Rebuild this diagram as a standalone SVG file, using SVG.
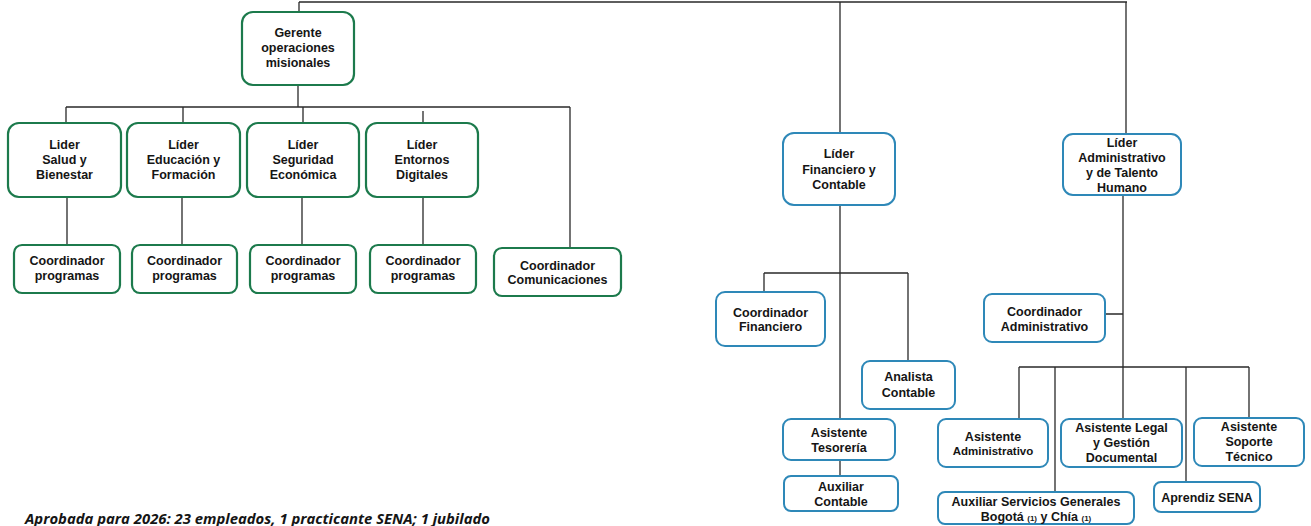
<svg xmlns="http://www.w3.org/2000/svg" width="1311" height="526" viewBox="0 0 1311 526">
<style>
.bg{fill:#ffffff}
.g{fill:#ffffff;stroke:#1c7a4c;stroke-width:2.2}
.b{fill:#ffffff;stroke:#2e88b8;stroke-width:2}
.c{fill:none;stroke:#2a2a2a;stroke-width:1.3}
text{font-family:"Liberation Sans",Arial,sans-serif;font-weight:bold;font-size:12.5px;fill:#151515;text-anchor:middle}
.s{font-size:11.5px}
.sup{font-size:8px}
.foot{font-family:"Open Sans","Liberation Sans",sans-serif;font-style:italic;font-weight:bold;font-size:13.5px;text-anchor:start}
</style>
<rect class="bg" x="0" y="0" width="1311" height="526"/>
<g id="connectors">
<path class="c" d="M299 2H1127M299 2V12M840 2V133M1126 2V136"/>
<path class="c" d="M298 85V107M66 107H570M66 107V123M183 107V123M303 107V123M423 111V123M570 107V248"/>
<path class="c" d="M67 197V245M182 197V245M302 197V245M423 197V245"/>
<path class="c" d="M840 205V419M764 273H908M764 273V292M908 273V361M840 460V476"/>
<path class="c" d="M1123 195V419M1105 314H1123M1019 367H1249M1019 367V419M1055 367V492M1186 367V482M1249 367V418"/>
</g>
<g id="gerente"><rect class="g" x="242" y="12" width="112" height="73" rx="11"/><text x="298" y="36.5">Gerente</text><text x="298" y="51.5">operaciones</text><text x="298" y="66.5">misionales</text></g>
<g id="lider-salud"><rect class="g" x="8" y="123" width="113" height="74" rx="11"/><text x="64.5" y="148.5">Lider</text><text x="64.5" y="163.5">Salud y</text><text x="64.5" y="179">Bienestar</text></g>
<g id="lider-educacion"><rect class="g" x="127" y="123" width="113" height="74" rx="11"/><text x="183.5" y="148.5">Líder</text><text x="183.5" y="163.5">Educación y</text><text x="183.5" y="179">Formación</text></g>
<g id="lider-seguridad"><rect class="g" x="247" y="123" width="112" height="74" rx="11"/><text x="303" y="148.5">Líder</text><text x="303" y="163.5">Seguridad</text><text x="303" y="179">Económica</text></g>
<g id="lider-entornos"><rect class="g" x="366" y="123" width="112" height="74" rx="11"/><text x="422" y="148.5">Líder</text><text x="422" y="163.5">Entornos</text><text x="422" y="179">Digitales</text></g>
<g id="coord-prog-1"><rect class="g" x="14" y="245" width="106" height="48" rx="8"/><text x="67" y="264.5">Coordinador</text><text x="67" y="280">programas</text></g>
<g id="coord-prog-2"><rect class="g" x="132" y="245" width="105" height="48" rx="8"/><text x="184.5" y="264.5">Coordinador</text><text x="184.5" y="280">programas</text></g>
<g id="coord-prog-3"><rect class="g" x="250" y="245" width="106" height="48" rx="8"/><text x="303" y="264.5">Coordinador</text><text x="303" y="280">programas</text></g>
<g id="coord-prog-4"><rect class="g" x="370" y="245" width="106" height="48" rx="8"/><text x="423" y="264.5">Coordinador</text><text x="423" y="280">programas</text></g>
<g id="coord-comunicaciones"><rect class="g" x="494" y="248" width="127" height="48" rx="8"/><text x="557.5" y="269.5">Coordinador</text><text x="557.5" y="284">Comunicaciones</text></g>
<g id="lider-financiero"><rect class="b" x="783" y="133" width="112" height="72" rx="11"/><text x="839" y="157.5">Líder</text><text x="839" y="173.5">Financiero y</text><text x="839" y="188.5">Contable</text></g>
<g id="lider-administrativo"><rect class="b" x="1063" y="134" width="118" height="61" rx="10"/><text x="1122" y="146.5">Líder</text><text x="1122" y="161.5">Administrativo</text><text x="1122" y="176.5">y de Talento</text><text x="1122" y="191.5">Humano</text></g>
<g id="coord-financiero"><rect class="b" x="716" y="292" width="109" height="54" rx="9"/><text x="770.5" y="316.5">Coordinador</text><text x="770.5" y="331">Financiero</text></g>
<g id="coord-administrativo"><rect class="b" x="984" y="294" width="121" height="48" rx="8"/><text x="1044.5" y="315.5">Coordinador</text><text x="1044.5" y="330.5">Administrativo</text></g>
<g id="analista-contable"><rect class="b" x="862" y="361" width="93" height="48" rx="8"/><text x="908.5" y="380.5">Analista</text><text x="908.5" y="396.5">Contable</text></g>
<g id="asistente-tesoreria"><rect class="b" x="783" y="419" width="112" height="41" rx="8"/><text x="839" y="436.5">Asistente</text><text x="839" y="451.5">Tesorería</text></g>
<g id="auxiliar-contable"><rect class="b" x="784" y="476" width="114" height="35" rx="7"/><text x="841" y="490.5">Auxiliar</text><text x="841" y="505.5">Contable</text></g>
<g id="asistente-administrativo"><rect class="b" x="938" y="419" width="110" height="48" rx="8"/><text x="993" y="440.5">Asistente</text><text class="s" x="993" y="454.5">Administrativo</text></g>
<g id="asistente-legal"><rect class="b" x="1061" y="419" width="121" height="48" rx="8"/><text x="1121.5" y="432">Asistente Legal</text><text x="1121.5" y="446.5">y Gestión</text><text x="1121.5" y="461.5">Documental</text></g>
<g id="asistente-soporte"><rect class="b" x="1194" y="418" width="110" height="48" rx="8"/><text x="1249" y="430.5">Asistente</text><text x="1249" y="445.5">Soporte</text><text x="1249" y="460.5">Técnico</text></g>
<g id="auxiliar-servicios"><rect class="b" x="938" y="492" width="196" height="32" rx="7"/><text x="1036" y="505.5">Auxiliar Servicios Generales</text><text x="1036" y="520.5">Bogotá <tspan class="sup">(1)</tspan> y Chía <tspan class="sup">(1)</tspan></text></g>
<g id="aprendiz-sena"><rect class="b" x="1154" y="482" width="106" height="30" rx="7"/><text x="1207" y="501.5">Aprendiz SENA</text></g>
<text class="foot" x="25" y="524" textLength="465" lengthAdjust="spacingAndGlyphs">Aprobada para 2026: 23 empleados, 1 practicante SENA; 1 jubilado</text>
</svg>
